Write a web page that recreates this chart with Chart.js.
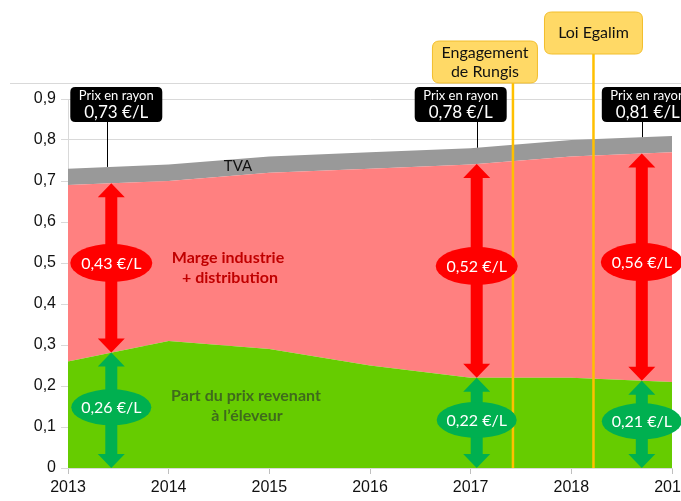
<!DOCTYPE html>
<html>
<head>
<meta charset="utf-8">
<script src="https://cdn.jsdelivr.net/npm/chart.js@4"></script>
<style>
  html, body { margin: 0; padding: 0; background: #fff; overflow: hidden; }
  #wrap { width: 681px; height: 501px; overflow: hidden; }
</style>
</head>
<body>
<div id="wrap"><canvas id="milkChart" width="700" height="501"></canvas></div>
<script>
// Data (€/L)
const years = [2013, 2014, 2015, 2016, 2017, 2018, 2019];
const producerShare = [0.26, 0.31, 0.29, 0.25, 0.22, 0.22, 0.21];
const marginShare = [0.43, 0.39, 0.43, 0.48, 0.52, 0.54, 0.56];
const vatShare = [0.04, 0.04, 0.04, 0.04, 0.04, 0.04, 0.04];

// Callouts (x position on the year axis + labels)
const calloutYears = [2013.43, 2017.06, 2018.70];
const priceLabels = ["0,73 €/L", "0,78 €/L", "0,81 €/L"];
const marginLabels = ["0,43 €/L", "0,52 €/L", "0,56 €/L"];
const producerLabels = ["0,26 €/L", "0,22 €/L", "0,21 €/L"];

// Events
const eventYears = [2017.42, 2018.22];
const eventLabels = [["Engagement", "de Rungis"], ["Loi Egalim"]];

const FONT = "Lato, 'Open Sans', sans-serif";

const toPoints = arr => arr.map((v, i) => ({ x: years[i], y: v }));

// cumulative tops, used by the callouts
const producerTop = producerShare.slice();
const marginTop = producerShare.map((v, i) => v + marginShare[i]);
const priceTop = marginTop.map((v, i) => v + vatShare[i]);

function valueAt(arr, x) {
  for (let i = 0; i < years.length - 1; i++) {
    if (x >= years[i] && x <= years[i + 1]) {
      const t = (x - years[i]) / (years[i + 1] - years[i]);
      return arr[i] + t * (arr[i + 1] - arr[i]);
    }
  }
  return arr[arr.length - 1];
}

function roundRect(ctx, x, y, w, h, r) {
  ctx.beginPath();
  ctx.moveTo(x + r, y);
  ctx.lineTo(x + w - r, y);
  ctx.quadraticCurveTo(x + w, y, x + w, y + r);
  ctx.lineTo(x + w, y + h - r);
  ctx.quadraticCurveTo(x + w, y + h, x + w - r, y + h);
  ctx.lineTo(x + r, y + h);
  ctx.quadraticCurveTo(x, y + h, x, y + h - r);
  ctx.lineTo(x, y + r);
  ctx.quadraticCurveTo(x, y, x + r, y);
  ctx.closePath();
}

function doubleArrow(ctx, x, yTop, yBot, color) {
  const shaft = 12, head = 27, headLen = 14;
  ctx.fillStyle = color;
  ctx.beginPath();
  ctx.moveTo(x, yTop);
  ctx.lineTo(x + head / 2, yTop + headLen);
  ctx.lineTo(x + shaft / 2, yTop + headLen);
  ctx.lineTo(x + shaft / 2, yBot - headLen);
  ctx.lineTo(x + head / 2, yBot - headLen);
  ctx.lineTo(x, yBot);
  ctx.lineTo(x - head / 2, yBot - headLen);
  ctx.lineTo(x - shaft / 2, yBot - headLen);
  ctx.lineTo(x - shaft / 2, yTop + headLen);
  ctx.lineTo(x - head / 2, yTop + headLen);
  ctx.closePath();
  ctx.fill();
}

function ellipseLabel(ctx, x, y, w, h, color, text) {
  ctx.fillStyle = color;
  ctx.beginPath();
  ctx.ellipse(x, y, w / 2, h / 2, 0, 0, Math.PI * 2);
  ctx.fill();
  ctx.fillStyle = "#fff";
  ctx.font = "16px " + FONT;
  ctx.textAlign = "center";
  ctx.textBaseline = "middle";
  ctx.fillText(text, x, y + 1);
}

const overlayPlugin = {
  id: "overlay",
  afterDatasetsDraw(chart) {
    const { ctx, scales: { x: xs, y: ys } } = chart;
    ctx.save();

    // frame line on top
    ctx.strokeStyle = "#d9d9d9";
    ctx.lineWidth = 1;
    ctx.beginPath();
    ctx.moveTo(10, 83.5);
    ctx.lineTo(700, 83.5);
    ctx.stroke();

    // text labels in the areas
    ctx.textAlign = "center";
    ctx.textBaseline = "middle";
    ctx.fillStyle = "#111";
    ctx.font = "15px " + FONT;
    ctx.fillText("TVA", 238, 166);
    ctx.fillStyle = "#c00000";
    ctx.font = "bold 16px " + FONT;
    ctx.fillText("Marge industrie", 228, 258);
    ctx.fillText("+ distribution", 230, 278);
    ctx.fillStyle = "#3f6a1c";
    ctx.fillText("Part du prix revenant", 246, 396);
    ctx.fillText("à l’éleveur", 247, 416);

    // event lines + boxes
    const eventBoxes = [
      { dx: -28, top: 41, w: 105, h: 42 },
      { dx: 0, top: 12, w: 98, h: 42 }
    ];
    eventYears.forEach((yr, i) => {
      const px = xs.getPixelForValue(yr);
      const b = eventBoxes[i];
      ctx.strokeStyle = "#ffc000";
      ctx.lineWidth = 2.5;
      ctx.beginPath();
      ctx.moveTo(px, b.top + b.h);
      ctx.lineTo(px, ys.getPixelForValue(0));
      ctx.stroke();
      roundRect(ctx, px + b.dx - b.w / 2, b.top, b.w, b.h, 7);
      ctx.fillStyle = "#ffd966";
      ctx.fill();
      ctx.strokeStyle = "#f2be2c";
      ctx.lineWidth = 1;
      ctx.stroke();
      ctx.fillStyle = "#111";
      ctx.font = "16px " + FONT;
      ctx.textAlign = "center";
      ctx.textBaseline = "middle";
      const lines = eventLabels[i];
      lines.forEach((t, k) => {
        const cy = b.top + b.h / 2 + (k - (lines.length - 1) / 2) * 19;
        ctx.fillText(t, px + b.dx, cy);
      });
    });

    // callouts
    const boxDx = [5, -16, 6];
    const connDx = [-4, 0, 0];
    calloutYears.forEach((yr, i) => {
      const px = xs.getPixelForValue(yr);
      const yPrice = ys.getPixelForValue(valueAt(priceTop, yr));
      const yMargin = ys.getPixelForValue(valueAt(marginTop, yr));
      const yProd = ys.getPixelForValue(valueAt(producerTop, yr));
      const y0 = ys.getPixelForValue(0);

      // price box + connector
      const bw = 92, bh = 35, bTop = 87;
      const cx = Math.round(px + connDx[i]) + 0.5;
      ctx.strokeStyle = "#000";
      ctx.lineWidth = 1;
      ctx.beginPath();
      ctx.moveTo(cx, bTop + bh);
      ctx.lineTo(cx, yPrice);
      ctx.stroke();
      roundRect(ctx, px + boxDx[i] - bw / 2, bTop, bw, bh, 5);
      ctx.fillStyle = "#000";
      ctx.fill();
      ctx.fillStyle = "#fff";
      ctx.textAlign = "center";
      ctx.textBaseline = "middle";
      ctx.font = "13px " + FONT;
      ctx.fillText("Prix en rayon", px + boxDx[i], bTop + 9);
      ctx.font = "17px " + FONT;
      ctx.fillText(priceLabels[i], px + boxDx[i], bTop + 26);

      // arrows
      doubleArrow(ctx, px, yMargin, yProd, "#ff0000");
      doubleArrow(ctx, px, yProd, y0, "#00b050");

      ellipseLabel(ctx, px, (yMargin + yProd) / 2 - 5, 82, 38, "#ff0000", marginLabels[i]);
      ellipseLabel(ctx, px, (yProd + y0) / 2 - 3, 80, 36, "#00b050", producerLabels[i]);
    });

    ctx.restore();
  }
};

const ctx = document.getElementById("milkChart").getContext("2d");
new Chart(ctx, {
  type: "line",
  data: {
    datasets: [
      {
        label: "Part du prix revenant à l'éleveur",
        data: toPoints(producerShare),
        backgroundColor: "#66cc00",
        borderWidth: 0,
        pointRadius: 0,
        fill: "origin",
      },
      {
        label: "Marge industrie + distribution",
        data: toPoints(marginShare),
        backgroundColor: "#ff8080",
        borderWidth: 0,
        pointRadius: 0,
        fill: "-1",
      },
      {
        label: "TVA",
        data: toPoints(vatShare),
        backgroundColor: "#999999",
        borderWidth: 0,
        pointRadius: 0,
        fill: "-1",
      },
    ],
  },
  options: {
    responsive: false,
    animation: false,
    layout: { padding: { top: 99, right: 28, left: 0, bottom: 0 } },
    plugins: { legend: { display: false }, tooltip: { enabled: false } },
    scales: {
      x: {
        type: "linear",
        min: 2013,
        max: 2019,
        afterFit: s => { s.height = 33; },
        ticks: {
          stepSize: 1,
          padding: 4,
          color: "#111",
          font: { family: "Liberation Sans", size: 16 },
          callback: v => String(v),
        },
        grid: { drawOnChartArea: false, drawTicks: true, tickLength: 6, color: "#bfbfbf" },
        border: { color: "#d9d9d9" },
      },
      y: {
        stacked: true,
        min: 0,
        max: 0.9,
        afterFit: s => { s.width = 68; },
        ticks: {
          stepSize: 0.1,
          padding: 5,
          color: "#111",
          font: { family: "Liberation Sans", size: 16 },
          callback: v => {
            const r = Math.round(v * 10) / 10;
            return r === 0 ? "0" : r.toFixed(1).replace(".", ",");
          },
        },
        grid: { color: "#d9d9d9", tickLength: 7 },
        border: { color: "#d9d9d9" },
      },
    },
  },
  plugins: [overlayPlugin],
});
</script>
</body>
</html>
